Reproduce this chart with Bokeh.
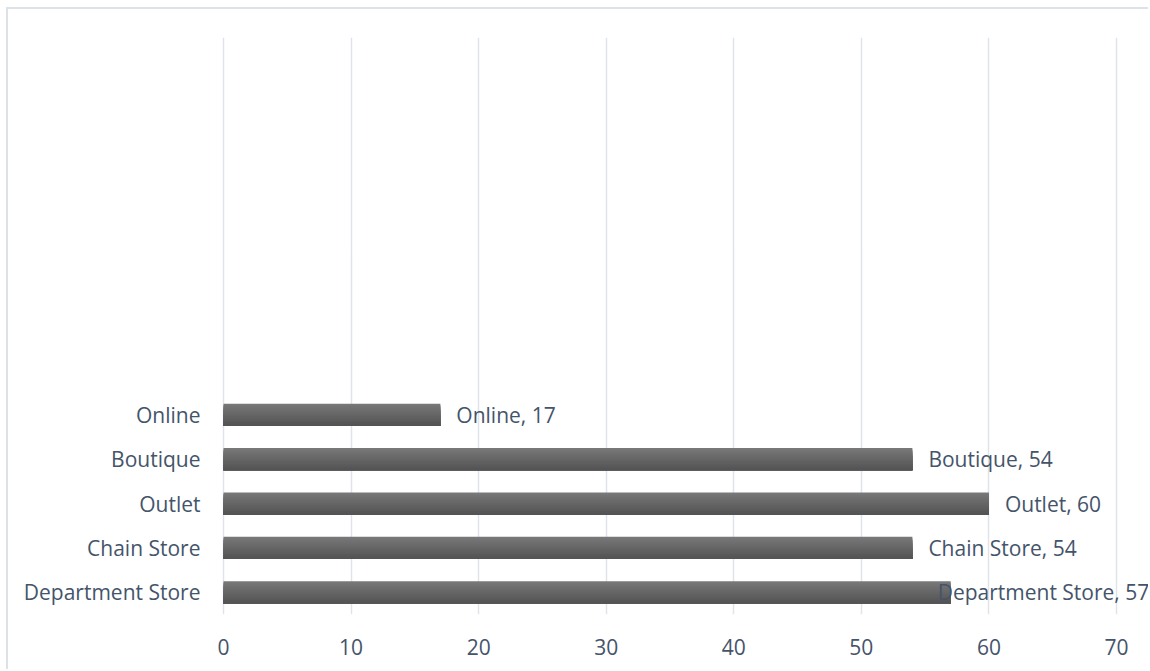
from bokeh.plotting import figure
from bokeh.models import ColumnDataSource, FixedTicker, LabelSet, Range1d
from bokeh.core.properties import value
from bokeh.embed import file_html
from bokeh.resources import INLINE

categories = ["Department Store", "Chain Store", "Outlet", "Boutique", "Online"]
values = [57, 54, 60, 54, 17]
x_ticks = [0, 10, 20, 30, 40, 50, 60, 70]
n_slots = 13  # category slots on the axis (top ones empty)

FONT = "Open Sans"
FSIZE = "21px"
TEXT = "#44546a"
GRID = "#e0e4ea"

positions = [i + 0.5 for i in range(len(categories))]

# layout (pixels, page coordinates)
host_x, host_y = 8, 9
W, H = 1150 - host_x, 671 - host_y
x0_px, x70_px = 223, 1116
frame_l, frame_r = 213, 1150
ppu = (x70_px - x0_px) / 70.0

p = figure(width=W, height=H, output_backend="svg", toolbar_location=None,
           x_range=Range1d(-(x0_px - frame_l) / ppu, 70 + (frame_r - x70_px) / ppu),
           y_range=(0, n_slots),
           min_border_left=frame_l - host_x, min_border_right=0,
           min_border_top=37 - host_y, min_border_bottom=H - (614 - host_y))
p.outline_line_color = None
p.background_fill_color = "white"
p.border_fill_color = "white"
p.styles = {"margin-left": "6px", "margin-top": "7px",
            "border-left": "2px solid #dde2e8", "border-top": "2px solid #dde2e8"}

p.xgrid.grid_line_color = GRID
p.xgrid.grid_line_width = 1.5
p.ygrid.grid_line_color = None

# gradient-like bars: successively shorter bars painted from the bottom
n_str = 14
bar_h = 0.5
ys, rights, cols, hs = [], [], [], []
for k in range(n_str):
    frac = (n_str - k) / n_str
    t = 1 - (k / (n_str - 1))
    c = int(0x54 + (0x78 - 0x54) * t)
    for pos, v in zip(positions, values):
        bottom = pos - bar_h / 2
        ys.append(bottom + frac * bar_h / 2)
        hs.append(frac * bar_h)
        rights.append(v)
        cols.append("#%02x%02x%02x" % (c, c, c))
p.hbar(y=ys, right=rights, left=0, height=hs, fill_color=cols, line_color=None)

# data labels
lab_offsets = [-13, 16, 16, 16, 16]
src = ColumnDataSource(dict(x=values, y=positions,
                            txt=[f"{c}, {v}" for c, v in zip(categories, values)],
                            off=lab_offsets))
labels = LabelSet(x="x", y="y", text="txt", x_offset="off", source=src,
                  text_font=value(FONT), text_font_size=value(FSIZE), text_color=TEXT,
                  text_align="left", text_baseline="middle")
p.add_layout(labels)

# axes
p.xaxis.ticker = FixedTicker(ticks=x_ticks)
p.xaxis.axis_line_color = None
p.xaxis.major_tick_line_color = None
p.xaxis.minor_tick_line_color = None
p.xaxis.major_label_standoff = 18
p.xaxis.major_label_text_font = FONT
p.xaxis.major_label_text_font_size = FSIZE
p.xaxis.major_label_text_color = TEXT

p.yaxis.ticker = FixedTicker(ticks=positions)
p.yaxis.major_label_overrides = {pos: c for pos, c in zip(positions, categories)}
p.yaxis.axis_line_color = None
p.yaxis.major_tick_line_color = None
p.yaxis.minor_tick_line_color = None
p.yaxis.major_label_standoff = 7
p.yaxis.major_label_text_font = FONT
p.yaxis.major_label_text_font_size = FSIZE
p.yaxis.major_label_text_color = TEXT

open("out.html", "w").write(file_html(p, INLINE))
